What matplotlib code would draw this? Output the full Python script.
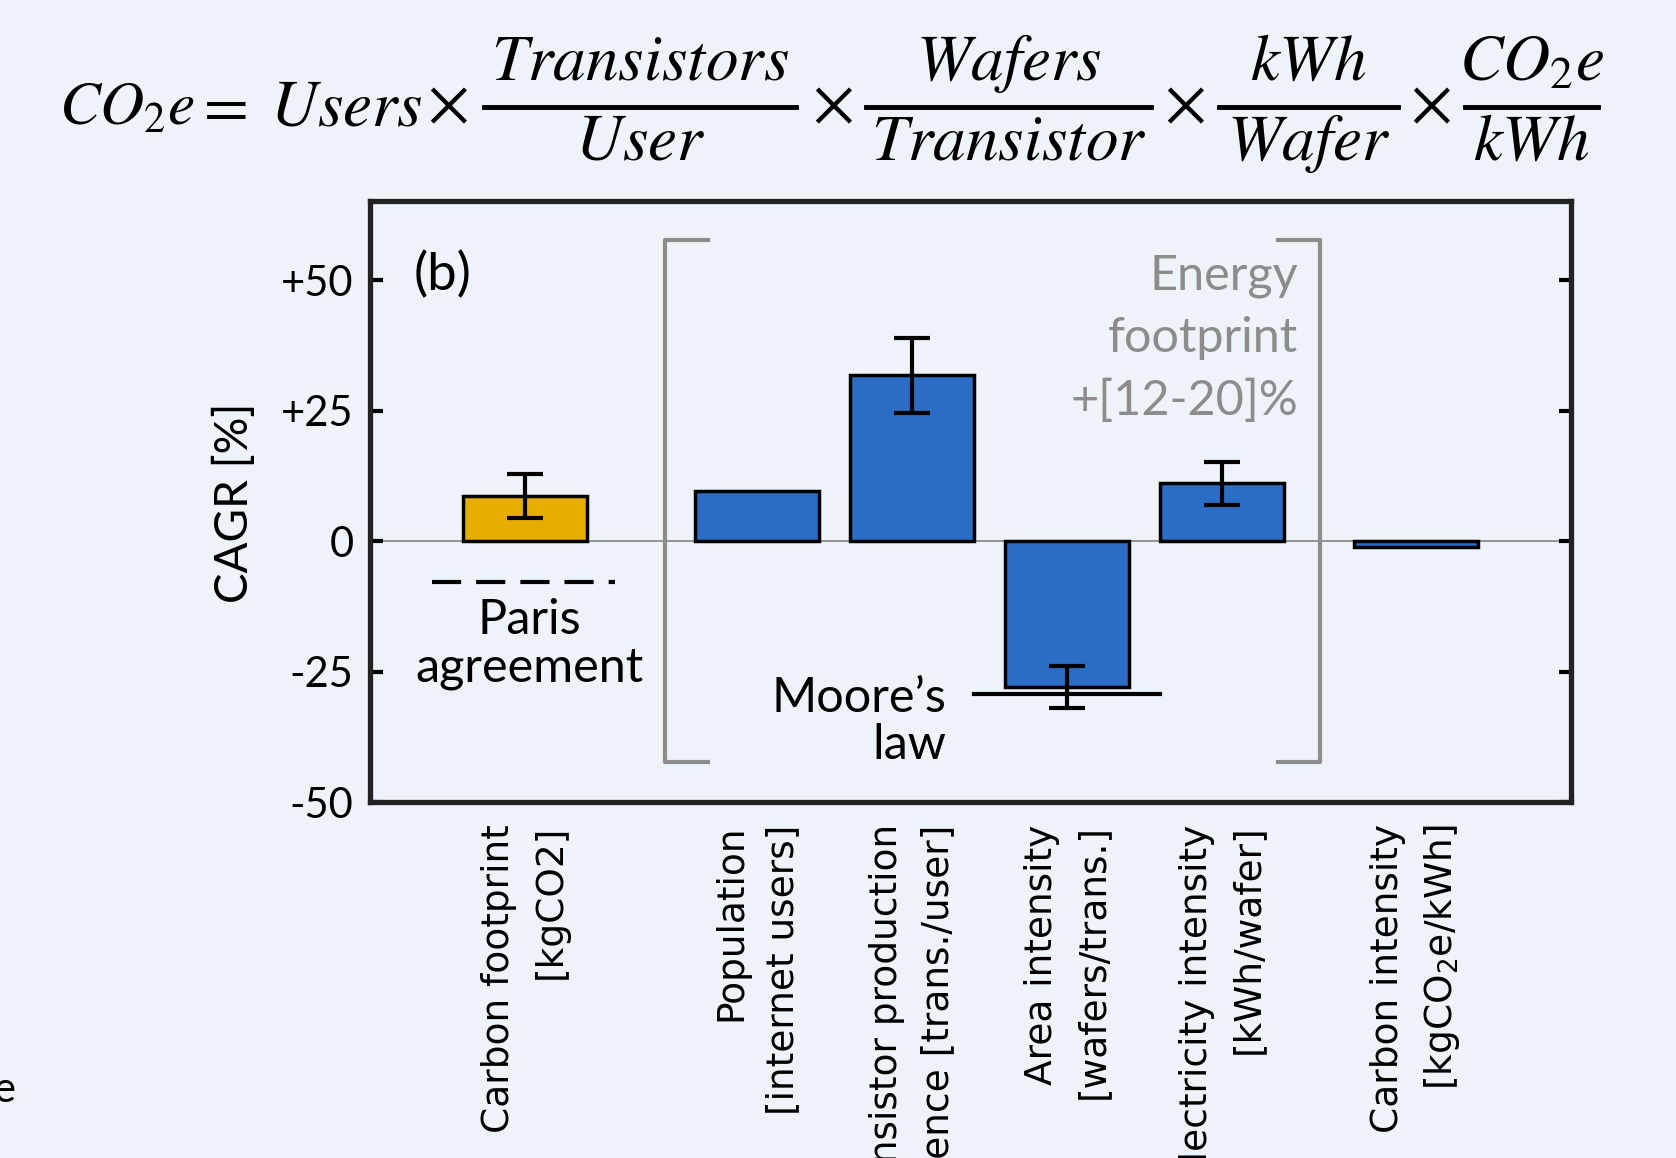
import matplotlib.pyplot as plt
from matplotlib.lines import Line2D

# CAGR of the carbon footprint factors
labels = ["Carbon footprint\n[kgCO2]", "Population\n[internet users]",
          "Transistor production\nefficience [trans./user]",
          "Area intensity\n[wafers/trans.]", "Electricity intensity\n[kWh/wafer]",
          "Carbon intensity\n[kgCO$_2$e/kWh]"]
xpos = [-0.5, 1, 2, 3, 4, 5.25]
cagr = [8.6, 9.6, 31.8, -28.0, 11.1, -1.2]
err_idx = [0, 2, 3, 4]
err_lo = [4.1, 7.2, 4.0, 4.1]
err_hi = [4.3, 7.1, 4.0, 4.1]
bar_colors = ["#E5AE00", "#2B6CC4", "#2B6CC4", "#2B6CC4", "#2B6CC4", "#2B6CC4"]
yticks = [-50, -25, 0, 25, 50]
yticklabels = ["-50", "-25", "0", "+25", "+50"]
paris = -7.8
moore = -29.3

# equation terms: numerators / denominators of the fractions
eq_num = ["Transistors", "Wafers", "kWh", "CO_2e"]
eq_den = ["User", "Transistor", "Wafer", "kWh"]

bg = "#EEF2F9"
txt_font = ["Lato", "DejaVu Sans"]
W, H = 1676, 1158

fig = plt.figure(figsize=(W / 100, H / 100), dpi=100, facecolor=bg)
ax = fig.add_axes([0.2208, 0.3074, 0.7166, 0.519], facecolor=bg)

ax.axhline(0, color="#8a8a8a", lw=1.3, zorder=1)
ax.bar(xpos, cagr, width=0.8, color=bar_colors, edgecolor="black", lw=2.5, zorder=2)
ax.errorbar([xpos[i] for i in err_idx], [cagr[i] for i in err_idx],
            yerr=[err_lo, err_hi], fmt="none", ecolor="black", elinewidth=3,
            capsize=13, capthick=3, zorder=3)

# Paris agreement and Moore's law references
ax.plot([-1.1, 0.08], [paris, paris], color="black", lw=3, dashes=(7, 3.6), zorder=3)
ax.text(-0.47, -19.7, "Paris\nagreement", ha="center", va="center", fontsize=35,
        family=txt_font, linespacing=1.12)
ax.plot([2.4, 3.6], [moore, moore], color="black", lw=3, zorder=3)
ax.text(2.22, -34.6, "Moore\u2019s\nlaw", ha="right", va="center", fontsize=35,
        multialignment="right", family=txt_font, linespacing=1.1)

# brackets of the energy footprint
br = "#8c8c8c"
ax.plot([0.68, 0.40, 0.40, 0.68], [57.8, 57.8, -42.4, -42.4], color=br, lw=3,
        solid_joinstyle="round", zorder=1)
ax.plot([4.36, 4.63, 4.63, 4.36], [57.8, 57.8, -42.4, -42.4], color=br, lw=3,
        solid_joinstyle="round", zorder=1)
ax.text(4.49, 38.9, "Energy\nfootprint\n+[12-20]%", ha="right", va="center",
        multialignment="right", fontsize=35, color="#8c8c8c", family=txt_font,
        linespacing=1.5)
ax.text(-1.22, 51, "(b)", ha="left", va="center", fontsize=38, family=txt_font)

ax.set_xlim(-1.5, 6.25)
ax.set_ylim(-50, 65.2)
ax.set_yticks(yticks)
ax.set_yticklabels(yticklabels, fontsize=30, family=txt_font)
ax.set_xticks(xpos)
ax.set_xticklabels(labels, rotation=90, ha="center", va="top", multialignment="right",
                   fontsize=27, linespacing=1.55)
ax.tick_params(axis="y", direction="in", length=9, width=3, pad=12,
               left=True, right=True)
ax.tick_params(axis="x", length=0, pad=16)
for s in ax.spines.values():
    s.set_linewidth(3.8)
    s.set_color("#222222")

fig.text(0.14, 0.566, "CAGR [%]", rotation=90, ha="center", va="center",
         fontsize=33, family=txt_font)

# equation, laid out piece by piece (pixel positions from the top-left)
def fx(px):
    return px / W

def fy(py):
    return 1 - py / H

eqkw = dict(math_fontfamily="stix", va="baseline")
fig.text(fx(59), fy(125), r"$CO_2e$", ha="left", fontsize=44, **eqkw)
fig.text(fx(220), fy(125), r"$=$", ha="center", fontsize=47, **eqkw)
fig.text(fx(270), fy(125), r"$Users$", ha="left", fontsize=47, **eqkw)
bars = [(484, 796), (866, 1151), (1219, 1398), (1465, 1598)]
times_x = [447, 832, 1184, 1430]
for tx in times_x:
    fig.text(fx(tx), fy(122), r"$\times$", ha="center", fontsize=47, **eqkw)
for (x0, x1), num, den in zip(bars, eq_num, eq_den):
    fig.add_artist(Line2D([fx(x0), fx(x1)], [fy(107), fy(107)], color="black",
                          lw=3.5, transform=fig.transFigure))
    xc = fx((x0 + x1) / 2)
    fig.text(xc, fy(80), "$" + num + "$", ha="center", fontsize=47, **eqkw)
    fig.text(xc, fy(160), "$" + den + "$", ha="center", fontsize=47, **eqkw)

# edge of the neighbouring panel
fig.text(-0.004, 0.059, "e", ha="left", va="center", fontsize=30, family=txt_font)

fig.savefig("out.png", dpi=100, facecolor=bg)
